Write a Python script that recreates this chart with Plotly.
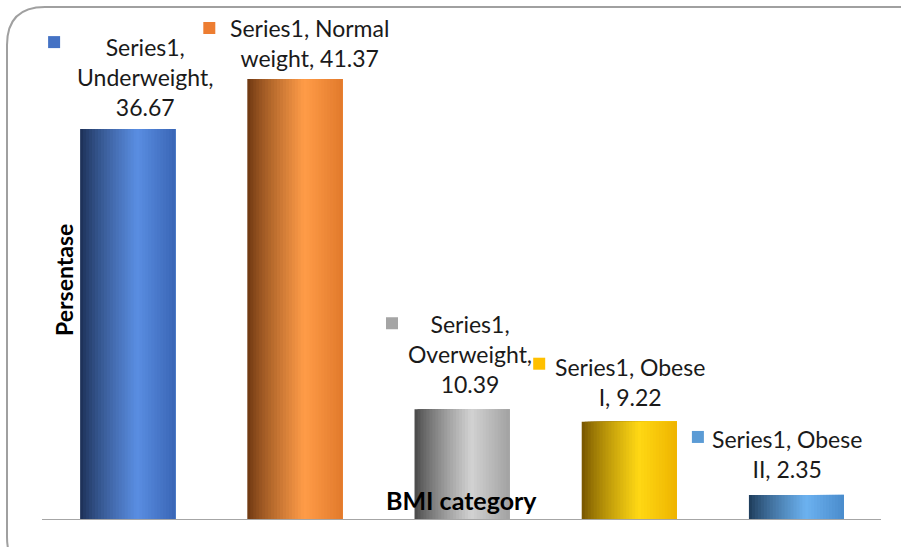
import plotly.graph_objects as go

# ---- data ----
categories = ["Underweight", "Normal weight", "Overweight", "Obese I", "Obese II"]
values = [36.67, 41.37, 10.39, 9.22, 2.35]
label_texts = [
    "Series1,<br>Underweight,<br>36.67",
    "Series1, Normal<br>weight, 41.37",
    "Series1,<br>Overweight,<br>10.39",
    "Series1, Obese<br>I, 9.22",
    "Series1, Obese<br>II, 2.35",
]
key_colors = ["#4472C4", "#ED7D31", "#A5A5A5", "#FFC000", "#5B9BD5"]
# cylinder shading: (dark edge, highlight, right edge)
shade = [
    ("#1b2d52", "#5a8ee2", "#3a66b6"),
    ("#6a3510", "#ff9c48", "#e27a2c"),
    ("#454545", "#d2d2d2", "#a2a2a2"),
    ("#735200", "#ffd814", "#eeb400"),
    ("#1c3856", "#6cb2f0", "#4a8ccc"),
]

W, H = 901, 547
L, R, T, B = 44, 21, 20, 27
pw, ph = W - L - R, H - T - B
px_per_unit = 10.66
ymax = ph / px_per_unit
bar_w = 0.568
N = 32


def hex2rgb(h):
    h = h.lstrip("#")
    return [int(h[i:i + 2], 16) for i in (0, 2, 4)]


def mix(a, b, t):
    return "rgb(%d,%d,%d)" % tuple(round(a[i] + (b[i] - a[i]) * t) for i in range(3))


def stripe_color(cidx, t):
    d, hgl, r = (hex2rgb(c) for c in shade[cidx])
    peak = 0.6
    if t <= peak:
        u = t / peak
        return mix(d, hgl, u ** 0.8)
    u = (t - peak) / (1 - peak)
    return mix(hgl, r, u)


fig = go.Figure()
sw = bar_w / N
for k in range(N):
    t = (k + 0.5) / N
    start = -bar_w / 2 + k * sw
    fig.add_trace(go.Bar(
        x=categories, y=values,
        width=bar_w / 2 - start, offset=start,
        marker=dict(color=[stripe_color(i, t) for i in range(len(categories))], line=dict(width=0)),
        showlegend=False, hoverinfo="skip",
    ))

# data labels
text_dx = [17, 15, 8, 1, -9]
text_dy = [6, 5, 9, 9, 10]
key_off = [(-73.5, 87), (-85.5, 51), (-70, 86), (-90, 58), (-98.5, 58)]
annotations = []
shapes = []
for i, (c, v) in enumerate(zip(categories, values)):
    annotations.append(dict(
        x=c, y=v, xref="x", yref="y", text=label_texts[i], showarrow=False,
        xanchor="center", yanchor="bottom", xshift=text_dx[i], yshift=text_dy[i],
        align="center", font=dict(family="Lato", size=23, color="#1a1a1a"),
    ))
    dx, dy = key_off[i]
    shapes.append(dict(
        type="rect", xref="x", yref="y", xsizemode="pixel", ysizemode="pixel",
        xanchor=i, yanchor=v, x0=dx - 6, x1=dx + 6, y0=dy - 6, y1=dy + 6,
        fillcolor=key_colors[i], line=dict(width=0),
    ))

# axis titles
annotations.append(dict(
    x=(64 - L) / pw, y=(H - B - 280) / ph, xref="paper", yref="paper",
    xanchor="center", yanchor="middle",
    text="<b>Persentase</b>", textangle=-90, showarrow=False,
    font=dict(family="Lato", size=23, color="#000000"),
))
annotations.append(dict(
    x=(461 - L) / pw, y=(H - B - 500) / ph, xref="paper", yref="paper",
    xanchor="center", yanchor="middle",
    text="<b>BMI category</b>", showarrow=False,
    font=dict(family="Lato", size=25, color="#000000"),
))

# baseline
shapes.append(dict(type="line", xref="paper", yref="y", x0=(42 - L) / pw, x1=(881 - L) / pw,
                   y0=0, y1=0, line=dict(color="#a6a6a6", width=2)))


# rounded chart border (pixel -> paper)
def px(xp):
    return (xp - L) / pw


def py(yp):
    return (H - B - yp) / ph


x0b, y0b, x1b, y1b, rr = 7, 7, 935, 575, 38
path = (
    f"M {px(x0b + rr)},{py(y0b)} L {px(x1b - rr)},{py(y0b)} "
    f"Q {px(x1b)},{py(y0b)} {px(x1b)},{py(y0b + rr)} "
    f"L {px(x1b)},{py(y1b - rr)} Q {px(x1b)},{py(y1b)} {px(x1b - rr)},{py(y1b)} "
    f"L {px(x0b + rr)},{py(y1b)} Q {px(x0b)},{py(y1b)} {px(x0b)},{py(y1b - rr)} "
    f"L {px(x0b)},{py(y0b + rr)} Q {px(x0b)},{py(y0b)} {px(x0b + rr)},{py(y0b)} Z"
)
shapes.append(dict(type="path", xref="paper", yref="paper", path=path,
                   line=dict(color="#a0a0a0", width=2), fillcolor="rgba(0,0,0,0)", layer="below"))

fig.update_layout(
    width=W, height=H,
    margin=dict(l=L, r=R, t=T, b=B),
    paper_bgcolor="white", plot_bgcolor="white",
    barmode="overlay",
    xaxis=dict(type="category", range=[-0.5, 4.5], showticklabels=False, showgrid=False,
               zeroline=False, showline=False, ticks=""),
    yaxis=dict(range=[0, ymax], showticklabels=False, showgrid=False, zeroline=False,
               showline=False, ticks=""),
    annotations=annotations, shapes=shapes,
)

fig.write_html("out.html")
